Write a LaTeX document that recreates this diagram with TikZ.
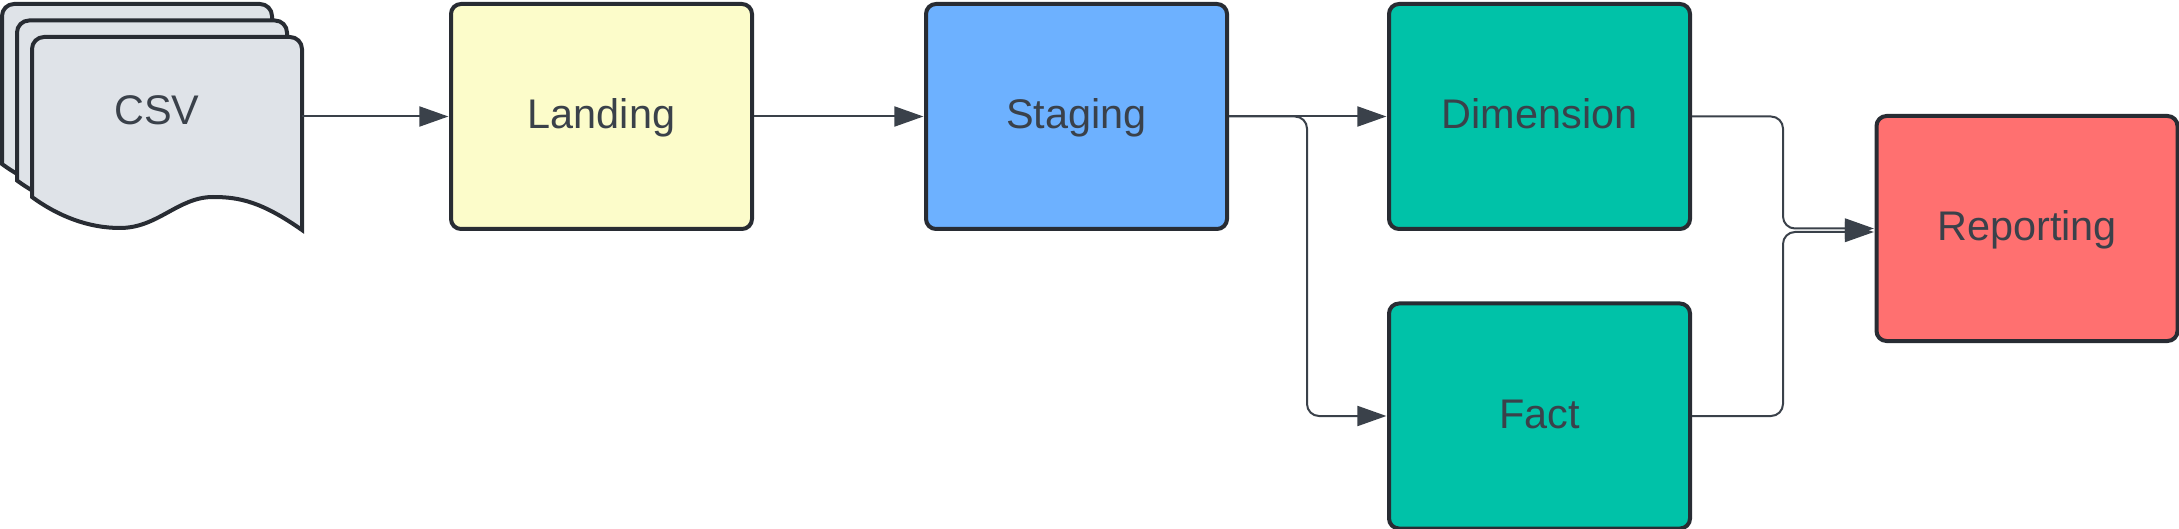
\documentclass[tikz,border=0pt]{standalone}
\usepackage{fontspec}
\setmainfont{Liberation Sans}
\usetikzlibrary{arrows.meta, calc}
\definecolor{inkline}{HTML}{282C33}
\definecolor{inktext}{HTML}{3A414A}
\definecolor{csvfill}{HTML}{DFE3E8}
\definecolor{landfill}{HTML}{FCFCCA}
\definecolor{stagefill}{HTML}{6DB1FF}
\definecolor{modelfill}{HTML}{00C2A8}
\definecolor{reportfill}{HTML}{FF7070}

\begin{document}
\begin{tikzpicture}[
    x=0.5pt, y=-0.5pt,
    lbl/.style={inner sep=0pt, text=inktext, text height=15.5pt, text depth=3.5pt, font=\fontsize{20.7}{24}\selectfont},
    nd/.style={lbl, draw=inkline, line width=2pt, rounded corners=5pt, minimum width=150.5pt, minimum height=112.5pt},
    sheet/.style={draw=inkline, line width=2pt, fill=csvfill, miter limit=10},
    arr/.style={-{Triangle[length=14.5pt, width=10pt]}, line width=1pt, draw=inktext, shorten >=0.3pt},
    link/.style={arr, rounded corners=6pt},
]
\useasboundingbox (0,0) rectangle (2179,529);

% ── Stacked CSV sheets ──
\foreach \dx/\dy in {-30/-33, -15/-16.5, 0/0} {
    \draw[sheet, shift={(\dx,\dy)}] (32,197) [rounded corners=6pt] -- (32,37) -- (302,37) [sharp corners] -- (302,230)
        .. controls (262,202) and (240,197) .. (213,197)
        .. controls (178,197) and (158,228) .. (120,228)
        .. controls (88,228) and (58,216) .. (32,197) -- cycle;
}
\node[lbl] (CSV) at (157,113) {CSV};
\coordinate (CSVout) at (302,116.5);

% ── Layers ──
\node[nd, fill=landfill] (Landing) at (601.5,116.5) {Landing};
\node[nd, fill=stagefill] (Staging) at (1076.5,116.5) {Staging};
\node[nd, fill=modelfill] (Dimension) at (1539.5,116.5) {Dimension};
\node[nd, fill=modelfill] (Fact) at (1539.5,416) {Fact};
\node[nd, fill=reportfill] (Reporting) at (2027,228.5) {Reporting};

% ── Arrows ──
\draw[arr] (CSVout) -- (Landing);
\draw[arr] (Landing) -- (Staging);
\draw[arr] (Staging) -- (Dimension);
\draw[link] (Staging.east) -- (1307,116.5) -- (1307,416) -- (Fact.west);
\draw[link] (Dimension.east) -- (1783,116.5) -- (1783,228.5) -- (Reporting.west);
\draw[link] (Fact.east) -- (1783,416) -- (1783,232) -- ($(Reporting.west)+(0,3.5)$);

\end{tikzpicture}
\end{document}
